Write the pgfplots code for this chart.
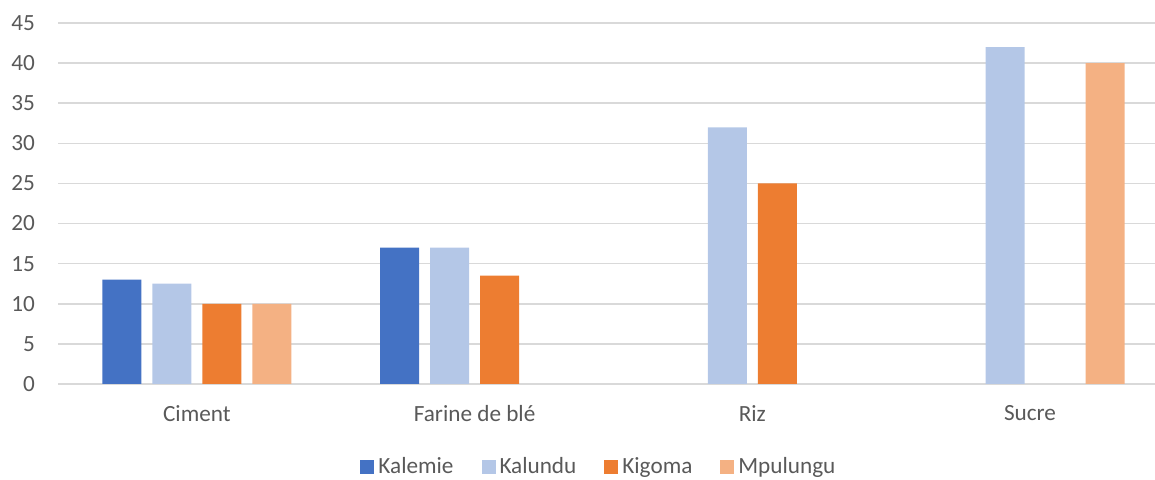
\documentclass[border=0pt]{standalone}
\usepackage{pgfplots}
\pgfplotsset{compat=1.18}
\usepackage{fontspec}
\setmainfont{Carlito}
\usetikzlibrary{calc}

\definecolor{kalemie}{HTML}{4472C4}
\definecolor{kalundu}{HTML}{B4C7E7}
\definecolor{kigoma}{HTML}{ED7D31}
\definecolor{mpulungu}{HTML}{F4B183}
\definecolor{txt}{HTML}{595959}
\definecolor{gridc}{HTML}{D9D9D9}

\begin{document}
\begin{tikzpicture}[font=\fontsize{11.6}{14}\selectfont, text=txt]
\begin{axis}[
  name=ax,
  scale only axis,
  width=548.5pt, height=180.5pt,
  ybar=5.5pt, bar width=19.5pt,
  xmin=-0.5, xmax=3.45,
  ymin=0, ymax=45,
  ytick={0,5,...,45},
  xtick={0,1,2,3},
  xticklabels={Ciment, Farine de blé, Riz, Sucre},
  /pgf/number format/assume math mode=true,
  axis line style={draw=none},
  major tick length=0pt,
  ymajorgrids,
  grid style={gridc, line width=0.8pt},
  yticklabel style={xshift=-8pt, text=txt},
  xticklabel style={yshift=-7pt, text=txt},
  clip=false,
  legend columns=4,
  legend style={draw=none, fill=none, at={(0.494,-0.23)}, anchor=center,
    /tikz/every even column/.append style={column sep=12pt},
    font=\fontsize{11.6}{14}\selectfont, text=txt},
  legend image code/.code={\fill[#1] (0pt,-3.5pt) rectangle (7pt,3.5pt);},
]
\draw[gridc, line width=0.8pt] (axis cs:-0.5,0) -- (axis cs:3.45,0);
\addplot[fill=kalemie, draw=none] coordinates {(0,13) (1,17)};
\addplot[fill=kalundu, draw=none] coordinates {(0,12.5) (1,17) (2,32) (3,42)};
\addplot[fill=kigoma, draw=none] coordinates {(0,10) (1,13.5) (2,25)};
\addplot[fill=mpulungu, draw=none] coordinates {(0,10) (3,40)};
\legend{Kalemie, Kalundu, Kigoma, Mpulungu}
\end{axis}
\pgfresetboundingbox
\path ($(ax.south west)+(-29pt,-48pt)$) rectangle ($(ax.north east)+(0pt,11.5pt)$);
\end{tikzpicture}
\end{document}
